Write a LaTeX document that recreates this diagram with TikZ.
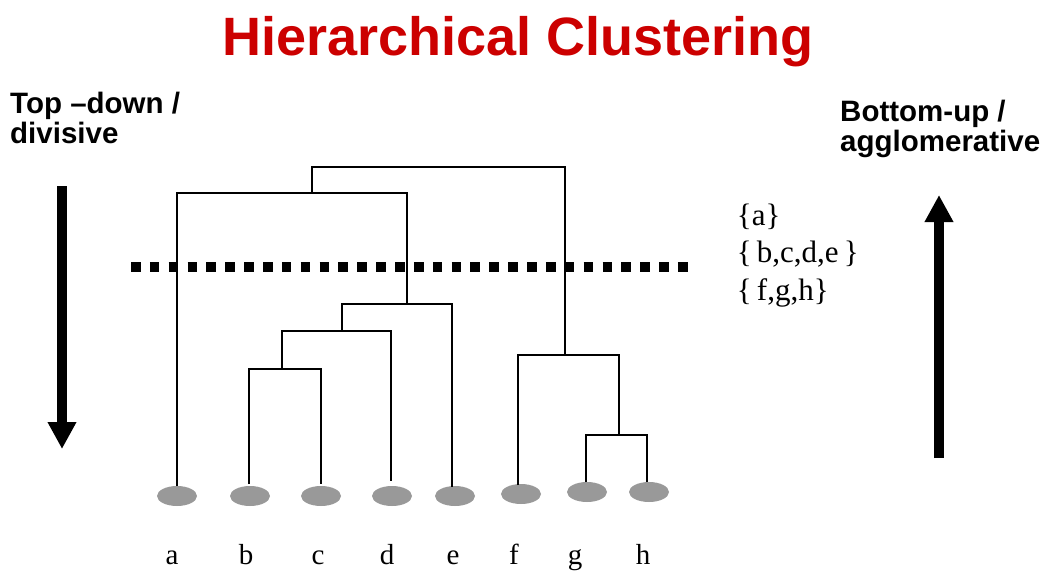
\documentclass[tikz,border=0pt]{standalone}
\usepackage{fontspec}
\setmainfont{Liberation Serif}
\newfontfamily\arialfont{Liberation Sans}
\usetikzlibrary{arrows.meta,shapes.geometric}
\definecolor{titlered}{RGB}{204,0,0}
\definecolor{leafgray}{RGB}{153,153,153}
\tikzset{
  leaf/.style={ellipse, fill=leafgray, minimum width=40pt, minimum height=20pt, inner sep=0pt},
  dendro/.style={line width=2pt, line join=miter},
  titletext/.style={inner sep=0pt, anchor=base, text=titlered, font=\arialfont\bfseries\fontsize{54}{60}\selectfont},
  sidetext/.style={inner sep=0pt, anchor=base west, font=\arialfont\bfseries\fontsize{29.5}{32}\selectfont},
  settext/.style={inner sep=0pt, anchor=base west, font=\fontsize{31}{34}\selectfont},
  leaflabel/.style={inner sep=0pt, anchor=base, font=\fontsize{29}{32}\selectfont},
  bigarrow/.style={line width=9.5pt, -{Triangle[length=27pt,width=27pt]}},
  cutline/.style={line width=10pt, dash pattern=on 9.6pt off 9.26pt}
}
\begin{document}
\begin{tikzpicture}[x=1pt,y=-1pt]
\useasboundingbox (0,0) rectangle (1058,571);

% title
\node[titletext] (title) at (518,55) {Hierarchical Clustering};

% side texts
\node[sidetext] (td1) at (10,113) {Top \textendash down /};
\node[sidetext] (td2) at (10,143) {divisive};
\node[sidetext] (bu1) at (840,121.7) {Bottom-up /};
\node[sidetext] (bu2) at (840,151.7) {agglomerative};

% big arrows
\coordinate (dstart) at (62,186);
\coordinate (dend) at (62,449);
\draw[bigarrow] (dstart) -- (dend);
\coordinate (ustart) at (939,458);
\coordinate (uend) at (939,195);
\draw[bigarrow] (ustart) -- (uend);

% leaves
\node[leaf] (a) at (177,496) {};
\node[leaf] (b) at (250,496) {};
\node[leaf] (c) at (321,496) {};
\node[leaf] (d) at (392,496) {};
\node[leaf] (e) at (455,496) {};
\node[leaf] (f) at (521,494) {};
\node[leaf] (g) at (587,492) {};
\node[leaf] (h) at (649,492) {};

% leaf stems tops
\coordinate (at) at (177,486);
\coordinate (bt) at (249,484);
\coordinate (ct) at (321,484);
\coordinate (dt) at (391,481);
\coordinate (et) at (452,487);
\coordinate (ft) at (518,485);
\coordinate (gt) at (586,482);
\coordinate (ht) at (647,482);

% merge points
\coordinate (bc) at (282,369);
\coordinate (bcd) at (342,331);
\coordinate (bcde) at (407,304);
\coordinate (abcde) at (312,193);
\coordinate (gh) at (619,435);
\coordinate (fgh) at (565,355);
\coordinate (root) at (440,167);

\draw[dendro] (bt) |- (bc) -| (ct);
\draw[dendro] (bc) |- (bcd) -| (dt);
\draw[dendro] (bcd) |- (bcde) -| (et);
\draw[dendro] (at) |- (abcde) -| (bcde);
\draw[dendro] (gt) |- (gh) -| (ht);
\draw[dendro] (ft) |- (fgh) -| (gh);
\draw[dendro] (abcde) |- (root) -| (fgh);

% cut line
\coordinate (cutL) at (131,267);
\coordinate (cutR) at (690,267);
\draw[cutline] (cutL) -- (cutR);

% cluster sets
\node[settext] (s1) at (736.7,225) {\{a\}};
\node[settext] (s2) at (736.7,262.7) {\{\,b,c,d,e\,\}};
\node[settext] (s3) at (736.7,300) {\{\,f,g,h\}};

% leaf labels
\node[leaflabel] (la) at (172,564) {a};
\node[leaflabel] (lb) at (246,564) {b};
\node[leaflabel] (lc) at (318,564) {c};
\node[leaflabel] (ld) at (387,564) {d};
\node[leaflabel] (le) at (453,564) {e};
\node[leaflabel] (lf) at (514,564) {f};
\node[leaflabel] (lg) at (575,564) {g};
\node[leaflabel] (lh) at (643,564) {h};
\end{tikzpicture}
\end{document}
